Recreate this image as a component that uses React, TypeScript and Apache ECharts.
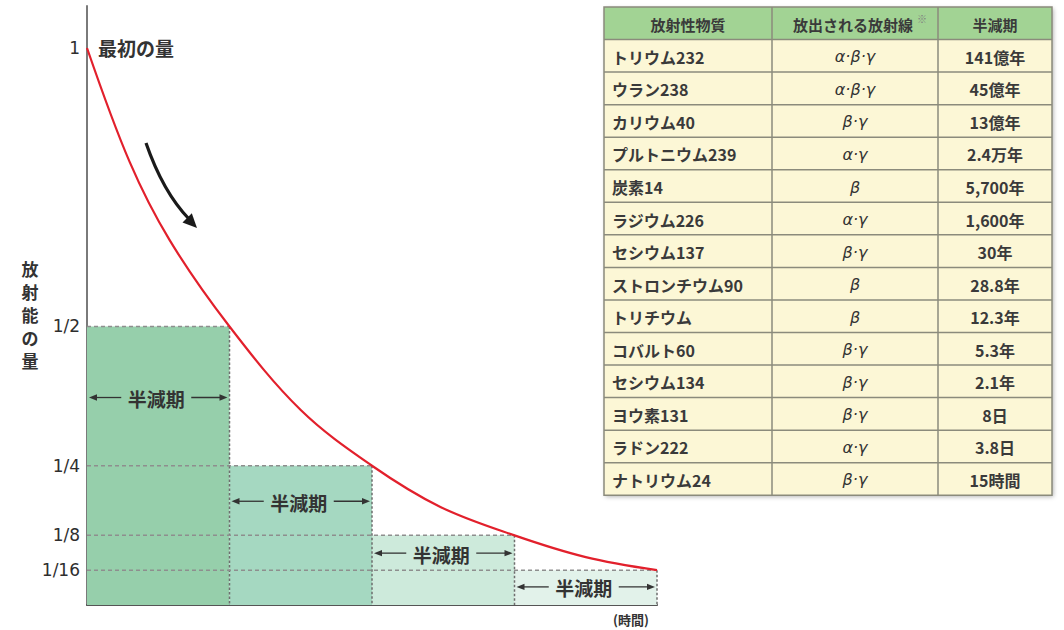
import React, { useEffect, useRef } from "react";
import * as echarts from "echarts";

// ---- chart data ----
const halfLifeSteps = [1, 2, 3, 4];
const remainingAmounts = [1 / 2, 1 / 4, 1 / 8, 1 / 16];
// points (time in half-lives, amount)
const curveTimes = [0, 0.3, 0.58, 1, 1.5, 2, 2.48, 3, 3.5, 4];
const curveAmounts = [1, 0.795, 0.655, 0.5, 0.35, 0.25, 0.176, 0.125, 0.086, 0.0625];
const yTickValues = [1, 1 / 2, 1 / 4, 1 / 8, 1 / 16];
const yTickLabels = ["1", "1/2", "1/4", "1/8", "1/16"];
const halfLifeText = "半減期";
const yAxisTitleChars = ["放", "射", "能", "の", "量"];

// ---- table data ----
const tableHeaders = ["放射性物質", "放出される放射線", "半減期"];
const nuclideNames = [
  "トリウム232",
  "ウラン238",
  "カリウム40",
  "プルトニウム239",
  "炭素14",
  "ラジウム226",
  "セシウム137",
  "ストロンチウム90",
  "トリチウム",
  "コバルト60",
  "セシウム134",
  "ヨウ素131",
  "ラドン222",
  "ナトリウム24",
];
const emittedRadiation = [
  "α·β·γ",
  "α·β·γ",
  "β·γ",
  "α·γ",
  "β",
  "α·γ",
  "β·γ",
  "β",
  "β",
  "β·γ",
  "β·γ",
  "β·γ",
  "α·γ",
  "β·γ",
];
const halfLifeLabels = [
  "141億年",
  "45億年",
  "13億年",
  "2.4万年",
  "5,700年",
  "1,600年",
  "30年",
  "28.8年",
  "12.3年",
  "5.3年",
  "2.1年",
  "8日",
  "3.8日",
  "15時間",
];

const rectColors = ["#96cfab", "#a5d8c1", "#cdeadb", "#e2f2ea"];
const JP = '"Noto Sans CJK JP", "Noto Sans CJK SC", sans-serif';

function txt(text: string, x: number, y: number, align: string, extra: any) {
  return {
    type: "text",
    style: {
      text,
      x,
      y,
      align,
      verticalAlign: "middle",
      textAlign: align,
      textVerticalAlign: "middle",
      ...extra,
    },
  };
}

function buildTable() {
  const colEdges = [604, 772, 938, 1052];
  const top = 7;
  const rowH = 32.55;
  const nRows = nuclideNames.length;
  const width = colEdges[3] - colEdges[0];
  const totalH = rowH * (nRows + 1);
  const children: any[] = [];
  children.push({
    type: "rect",
    shape: { x: colEdges[0], y: top, width, height: totalH },
    style: {
      fill: "#fcf7d6",
      shadowBlur: 4,
      shadowOffsetX: 1.5,
      shadowOffsetY: 1.5,
      shadowColor: "rgba(0,0,0,0.3)",
    },
  });
  children.push({
    type: "rect",
    shape: { x: colEdges[0], y: top, width, height: rowH },
    style: { fill: "#a2d394" },
  });
  for (let r = 1; r <= nRows; r++) {
    const y = top + r * rowH;
    children.push({
      type: "line",
      shape: { x1: colEdges[0], y1: y, x2: colEdges[3], y2: y },
      style: { stroke: "#8b8b7c", lineWidth: 1.5 },
    });
  }
  for (let c = 1; c < 3; c++) {
    children.push({
      type: "line",
      shape: { x1: colEdges[c], y1: top, x2: colEdges[c], y2: top + totalH },
      style: { stroke: "#8b8b7c", lineWidth: 1.5 },
    });
  }
  children.push({
    type: "rect",
    shape: { x: colEdges[0], y: top, width, height: totalH },
    style: { fill: "none", stroke: "#8b8b7c", lineWidth: 1.5 },
  });
  const centers = [0, 1, 2].map((c) => (colEdges[c] + colEdges[c + 1]) / 2);
  const headFont = { fontFamily: JP, fontSize: 15, fontWeight: "bold", fill: "#3a3a3a" };
  tableHeaders.forEach((h, c) => {
    children.push(txt(h, centers[c] - (c === 1 ? 2 : 0), top + rowH / 2 + 1, "center", headFont));
  });
  children.push(txt("※", centers[1] + 62, top + 11, "left", { fontFamily: JP, fontSize: 10, fill: "#7f7f7f" }));
  const cellFont = { fontFamily: JP, fontSize: 16, fontWeight: "bold", fill: "#3a3a3a" };
  for (let r = 0; r < nRows; r++) {
    const cy = top + (r + 1.5) * rowH + 1;
    children.push(txt(nuclideNames[r], 612, cy, "left", cellFont));
    children.push(
      txt(emittedRadiation[r], centers[1], cy, "center", {
        fontFamily: '"DejaVu Sans", sans-serif',
        fontSize: 16,
        fontStyle: "italic",
        fill: "#333",
      })
    );
    children.push(txt(halfLifeLabels[r], centers[2], cy, "center", cellFont));
  }
  return { type: "group", children };
}

export default function App() {
  const ref = useRef<HTMLDivElement>(null);
  useEffect(() => {
    if (!ref.current) return;
    const chart = echarts.init(ref.current, null, { renderer: "svg" });
    const stepData = halfLifeSteps.map((k, i) => [k, remainingAmounts[i]]);
    const option: any = {
      animation: false,
      grid: { left: 87, right: 407, top: 6, bottom: 25, outerBoundsMode: "none" },
      xAxis: {
        type: "value",
        min: 0,
        max: 4,
        axisLine: { show: true, onZero: false, lineStyle: { color: "#555", width: 2.2 } },
        axisTick: { show: false },
        axisLabel: { show: false },
        splitLine: { show: false },
      },
      yAxis: {
        type: "value",
        min: 0,
        max: 1.0754,
        axisLine: { show: true, lineStyle: { color: "#7a7a7a", width: 2 } },
        axisTick: { show: false },
        splitLine: { show: false },
        axisLabel: {
          customValues: yTickValues,
          formatter: (v: number) => {
            const i = yTickValues.findIndex((t) => Math.abs(t - v) < 1e-6);
            return i >= 0 ? yTickLabels[i] : "";
          },
          color: "#2e2e2e",
          fontSize: 17,
          fontFamily: '"DejaVu Sans", sans-serif',
          margin: 7,
        },
      },
      series: [
        {
          type: "custom",
          z: 1,
          data: stepData,
          renderItem: (params: any, api: any) => {
            const k = api.value(0);
            const v = api.value(1);
            const p0 = api.coord([k - 1, 0]);
            const p1 = api.coord([k, v]);
            return {
              type: "rect",
              shape: { x: p0[0], y: p1[1], width: p1[0] - p0[0], height: p0[1] - p1[1] },
              style: { fill: rectColors[params.dataIndex] },
            };
          },
        },
        {
          type: "custom",
          z: 2,
          data: stepData,
          renderItem: (params: any, api: any) => {
            const k = api.value(0);
            const v = api.value(1);
            const origin = api.coord([0, v]);
            const corner = api.coord([k, v]);
            const base = api.coord([k, 0]);
            const left = api.coord([k - 1, 0]);
            const frac = k < 4 ? 0.745 : 0.52;
            const ly = api.coord([k, v * frac])[1];
            const xL = left[0] + 2;
            const xR = corner[0] - 2;
            const cx = (left[0] + corner[0]) / 2 - 2;
            const gap = 35;
            const stroke = "#333";
            return {
              type: "group",
              children: [
                {
                  type: "line",
                  shape: { x1: origin[0], y1: origin[1], x2: corner[0], y2: corner[1] },
                  style: { stroke: "#8e8e8e", lineWidth: 1.5, lineDash: [4, 3] },
                },
                {
                  type: "line",
                  shape: { x1: corner[0], y1: corner[1], x2: base[0], y2: base[1] },
                  style: { stroke: "#6e6e6e", lineWidth: 1.5, lineDash: [2.5, 2] },
                },
                {
                  type: "line",
                  shape: { x1: xL + 4, y1: ly, x2: cx - gap, y2: ly },
                  style: { stroke, lineWidth: 1.3 },
                },
                {
                  type: "line",
                  shape: { x1: cx + gap, y1: ly, x2: xR - 4, y2: ly },
                  style: { stroke, lineWidth: 1.3 },
                },
                {
                  type: "polygon",
                  shape: { points: [[xL, ly], [xL + 8, ly - 3.2], [xL + 8, ly + 3.2]] },
                  style: { fill: stroke },
                },
                {
                  type: "polygon",
                  shape: { points: [[xR, ly], [xR - 8, ly - 3.2], [xR - 8, ly + 3.2]] },
                  style: { fill: stroke },
                },
                {
                  type: "text",
                  style: {
                    text: halfLifeText,
                    x: cx,
                    y: ly + 1,
                    align: "center",
                    verticalAlign: "middle",
                    textAlign: "center",
                    textVerticalAlign: "middle",
                    fontFamily: JP,
                    fontSize: 19,
                    fontWeight: "bold",
                    fill: "#333",
                  },
                },
              ],
            };
          },
        },
        {
          type: "line",
          z: 3,
          data: curveTimes.map((t, i) => [t, curveAmounts[i]]),
          symbol: "none",
          smooth: 0.35,
          lineStyle: { color: "#e2202c", width: 2.2 },
        },
      ],
      graphic: [
        txt("最初の量", 98, 47, "left", { fontFamily: JP, fontSize: 19, fontWeight: "bold", fill: "#333" }),
        ...yAxisTitleChars.map((ch, i) =>
          txt(ch, 30, 268 + i * 23, "center", { fontFamily: JP, fontSize: 17, fontWeight: "bold", fill: "#333" })
        ),
        txt("(時間)", 631, 619, "center", { fontFamily: JP, fontSize: 13, fontWeight: "bold", fill: "#333" }),
        {
          type: "bezierCurve",
          shape: { x1: 146, y1: 143, cpx1: 163, cpy1: 192, x2: 189, y2: 219 },
          style: { stroke: "#1a1a1a", lineWidth: 3.2, fill: "none" },
        },
        {
          type: "polygon",
          shape: { points: [[197, 228], [182.5, 222.5], [191.8, 213.2]] },
          style: { fill: "#1a1a1a" },
        },
        buildTable(),
      ],
    };
    chart.setOption(option);
    return () => chart.dispose();
  }, []);
  return (
    <div
      ref={ref}
      style={{ position: "absolute", left: 0, top: 0, width: 1064, height: 630, background: "#fff" }}
    />
  );
}
